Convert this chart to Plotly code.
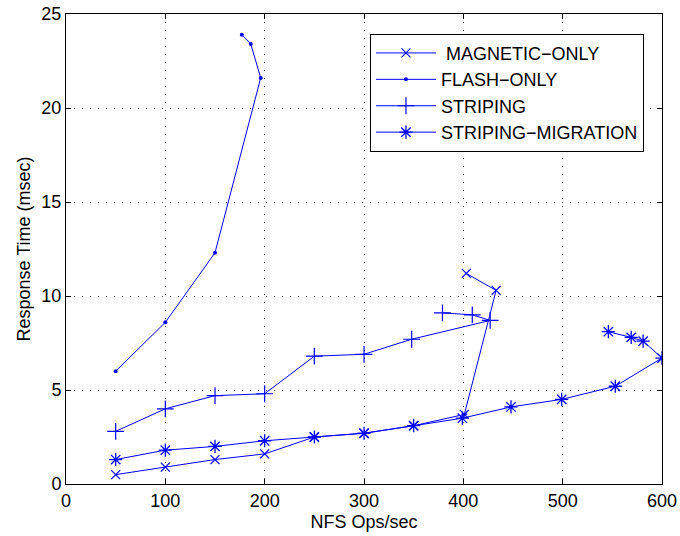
import plotly.graph_objects as go

# Data
mag_x = [50, 100, 150, 200, 250, 300, 350, 401, 433, 403]
mag_y = [0.5, 0.9, 1.3, 1.6, 2.5, 2.7, 3.1, 3.7, 10.3, 11.2]

flash_x = [50, 100, 150, 196, 186, 177]
flash_y = [6.0, 8.6, 12.3, 21.6, 23.4, 23.9]

strip_x = [50, 100, 150, 200, 250, 300, 348, 427, 409, 379]
strip_y = [2.8, 4.0, 4.7, 4.8, 6.8, 6.9, 7.7, 8.7, 9.0, 9.1]

sm_x = [50, 100, 150, 200, 250, 300, 350, 399, 448, 499, 553, 600, 581, 569, 546]
sm_y = [1.3, 1.8, 2.0, 2.3, 2.5, 2.7, 3.1, 3.5, 4.1, 4.5, 5.2, 6.7, 7.6, 7.8, 8.1]

names = ["MAGNETIC\u2212ONLY", "FLASH\u2212ONLY", "STRIPING", "STRIPING\u2212MIGRATION"]
x_ticks = [0, 100, 200, 300, 400, 500, 600]
y_ticks = [0, 5, 10, 15, 20, 25]

blue = "rgb(0,0,255)"
FONT = "Liberation Sans, Arial, sans-serif"

fig = go.Figure()
fig.add_trace(go.Scatter(x=mag_x, y=mag_y, mode="lines+markers", name=" " + names[0],
                         line=dict(color=blue, width=1),
                         marker=dict(symbol="x-thin", size=9, color=blue,
                                     line=dict(color=blue, width=1.2))))
fig.add_trace(go.Scatter(x=flash_x, y=flash_y, mode="lines+markers", name=names[1],
                         line=dict(color=blue, width=1),
                         marker=dict(symbol="circle", size=4, color=blue)))
fig.add_trace(go.Scatter(x=strip_x, y=strip_y, mode="lines+markers", name=names[2],
                         line=dict(color=blue, width=1),
                         marker=dict(symbol="cross-thin", size=12, color=blue,
                                     line=dict(color=blue, width=1.2))))
fig.add_trace(go.Scatter(x=sm_x, y=sm_y, mode="lines+markers", name=names[3],
                         line=dict(color=blue, width=1),
                         marker=dict(symbol="asterisk", size=11, color=blue,
                                     line=dict(color=blue, width=1.3))))

axis_common = dict(
    showgrid=True, gridcolor="rgb(70,70,70)", griddash="1px,7px", gridwidth=1,
    showline=True, linecolor="black", linewidth=1, mirror="ticks",
    ticks="inside", ticklen=5, tickcolor="black",
    zeroline=False, tickfont=dict(family=FONT, size=18, color="black"),
    ticklabeloverflow="allow",
)

fig.update_xaxes(range=[0, 600], tickvals=x_ticks,
                 title=dict(text="NFS Ops/sec", font=dict(family=FONT, size=18, color="black"), standoff=5),
                 **axis_common)
fig.update_yaxes(range=[0, 25], tickvals=y_ticks,
                 title=dict(text="Response Time (msec)", font=dict(family=FONT, size=18, color="black"), standoff=6),
                 **axis_common)

fig.update_layout(
    width=680, height=536,
    margin=dict(l=66, r=18, t=14, b=52, autoexpand=False),
    plot_bgcolor="white", paper_bgcolor="white",
    font=dict(family=FONT, size=18, color="black"),
    legend=dict(x=0.51, y=0.958, xanchor="left", yanchor="top",
                bordercolor="black", borderwidth=1, bgcolor="white",
                font=dict(family=FONT, size=18, color="black"),
                tracegroupgap=0, itemwidth=60),
    showlegend=True,
)

fig.write_html(
    "out.html",
    config={"displayModeBar": False},
    post_script="document.body.style.margin='0';document.body.style.overflow='hidden';",
)
